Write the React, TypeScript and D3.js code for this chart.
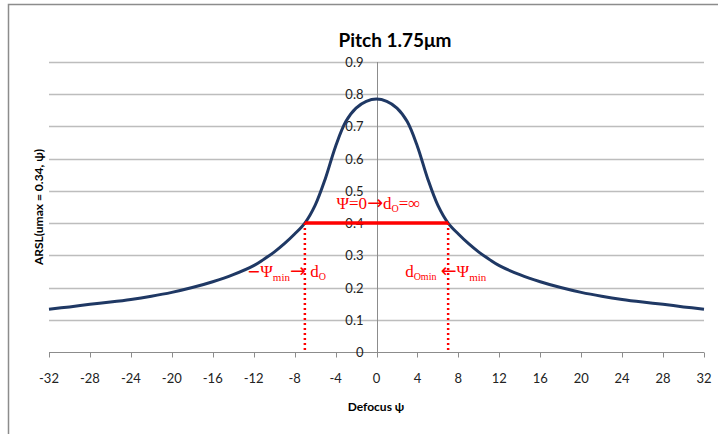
import React, { useEffect, useRef } from 'react';
import * as d3 from 'd3';

// Defocus values (psi) and the ARSL curve
const defocus = [-32, -30, -28, -26, -24, -22, -20, -18, -16, -14, -12, -11, -10, -9, -8, -7, -6, -5, -4, -3, -2, -1, 0,
  1, 2, 3, 4, 5, 6, 7, 8, 9, 10, 11, 12, 14, 16, 18, 20, 22, 24, 26, 28, 30, 32];
const arsl = [0.133, 0.14, 0.148, 0.155, 0.163, 0.173, 0.185, 0.2, 0.218, 0.24, 0.268, 0.288, 0.31, 0.336, 0.366, 0.4, 0.455, 0.538, 0.638, 0.715, 0.757, 0.778, 0.785,
  0.778, 0.757, 0.715, 0.638, 0.538, 0.455, 0.4, 0.366, 0.336, 0.31, 0.288, 0.268, 0.24, 0.218, 0.2, 0.185, 0.173, 0.163, 0.155, 0.148, 0.14, 0.133];

const xTicks = [-32, -28, -24, -20, -16, -12, -8, -4, 0, 4, 8, 12, 16, 20, 24, 28, 32];
const yTicks = [0, 0.1, 0.2, 0.3, 0.4, 0.5, 0.6, 0.7, 0.8, 0.9];

const psiMin = 7;
const threshold = 0.4;

const App: React.FC = () => {
  const svgRef = useRef<SVGSVGElement>(null);

  useEffect(() => {
    if (!svgRef.current) return;
    const width = 718;
    const height = 434;
    const svg = d3.select(svgRef.current);
    svg.selectAll('*').remove();
    svg.attr('width', width).attr('height', height);

    const font = 'Lato, "Open Sans", sans-serif';
    const serif = '"Liberation Serif", "DejaVu Serif", serif';
    const sym = '"DejaVu Sans", sans-serif';

    const x = d3.scaleLinear().domain([-32, 32]).range([49, 704]);
    const y = d3.scaleLinear().domain([0, 0.9]).range([352, 62]);

    // outer chart border (only left and top visible)
    svg.append('path')
      .attr('d', `M8.5,${height}V4.5H${width}`)
      .attr('fill', 'none')
      .attr('stroke', '#8c8c8c')
      .attr('stroke-width', 1.5);

    // gridlines
    svg.append('g')
      .selectAll('line')
      .data(yTicks.filter((d) => d > 0))
      .enter()
      .append('line')
      .attr('x1', x(-32))
      .attr('x2', x(32))
      .attr('y1', (d) => Math.round(y(d)) + 0.5)
      .attr('y2', (d) => Math.round(y(d)) + 0.5)
      .attr('stroke', '#bdbdbd')
      .attr('stroke-width', 1.5);

    // x axis line + ticks
    const axisY = Math.round(y(0)) + 0.5;
    svg.append('line')
      .attr('x1', x(-32)).attr('x2', x(32))
      .attr('y1', axisY).attr('y2', axisY)
      .attr('stroke', '#8c8c8c');
    svg.append('g')
      .selectAll('line')
      .data(xTicks)
      .enter()
      .append('line')
      .attr('x1', (d) => Math.round(x(d)) + 0.5)
      .attr('x2', (d) => Math.round(x(d)) + 0.5)
      .attr('y1', axisY)
      .attr('y2', axisY + 5)
      .attr('stroke', '#8c8c8c');

    svg.append('g')
      .selectAll('text')
      .data(xTicks)
      .enter()
      .append('text')
      .attr('x', (d) => x(d))
      .attr('y', 383)
      .attr('text-anchor', 'middle')
      .attr('font-family', font)
      .attr('font-size', 13)
      .attr('fill', '#222')
      .text((d) => d);

    // y axis at x = 0
    const axisX = Math.round(x(0)) + 0.5;
    svg.append('line')
      .attr('x1', axisX).attr('x2', axisX)
      .attr('y1', y(0.9)).attr('y2', y(0))
      .attr('stroke', '#8c8c8c');

    svg.append('g')
      .selectAll('text')
      .data(yTicks)
      .enter()
      .append('text')
      .attr('x', x(0) - 13)
      .attr('y', (d) => y(d) + 5)
      .attr('text-anchor', 'end')
      .attr('font-family', font)
      .attr('font-size', 13)
      .attr('fill', '#222')
      .text((d) => (d === 0 ? '0' : d.toFixed(1)));

    // curve
    const line = d3.line<number>()
      .x((_, i) => x(defocus[i]))
      .y((d) => y(d))
      .curve(d3.curveCatmullRom.alpha(0.5));
    svg.append('path')
      .attr('d', line(arsl)!)
      .attr('fill', 'none')
      .attr('stroke', '#1f3864')
      .attr('stroke-width', 3);

    // red annotations
    svg.append('line')
      .attr('x1', x(-psiMin)).attr('x2', x(psiMin))
      .attr('y1', y(threshold)).attr('y2', y(threshold))
      .attr('stroke', '#ff0000')
      .attr('stroke-width', 3.5);
    [-psiMin, psiMin].forEach((v) => {
      svg.append('line')
        .attr('x1', x(v)).attr('x2', x(v))
        .attr('y1', y(threshold)).attr('y2', y(0))
        .attr('stroke', '#ff0000')
        .attr('stroke-width', 2.5)
        .attr('stroke-dasharray', '2,3');
    });

    const arrowSize = 19;

    const t1 = svg.append('text')
      .attr('x', x(0) + 2)
      .attr('y', 209)
      .attr('text-anchor', 'middle')
      .attr('font-family', serif)
      .attr('font-size', 17)
      .attr('fill', '#ff0000');
    t1.append('tspan').text('Ψ=0');
    t1.append('tspan').attr('font-family', sym).attr('font-size', arrowSize).text('→');
    t1.append('tspan').text('d');
    t1.append('tspan').attr('font-size', 10).attr('dy', 3).text('O');
    t1.append('tspan').attr('dy', -3).text('=∞');

    const t2 = svg.append('text')
      .attr('x', x(-psiMin) + 21)
      .attr('y', 277)
      .attr('text-anchor', 'end')
      .attr('font-family', serif)
      .attr('font-size', 17)
      .attr('fill', '#ff0000');
    t2.append('tspan').attr('font-family', sym).attr('font-size', 16).text('−');
    t2.append('tspan').text('Ψ');
    t2.append('tspan').attr('font-size', 11).attr('dy', 4).text('min');
    t2.append('tspan').attr('dy', -4).attr('font-family', sym).attr('font-size', arrowSize).text('→');
    t2.append('tspan').text(' d');
    t2.append('tspan').attr('font-size', 10).attr('dy', 3).text('O');

    const t3 = svg.append('text')
      .attr('x', x(psiMin) - 43)
      .attr('y', 277)
      .attr('font-family', serif)
      .attr('font-size', 17)
      .attr('fill', '#ff0000');
    t3.append('tspan').text('d');
    t3.append('tspan').attr('font-size', 10).attr('dy', 3).text('Omin');
    t3.append('tspan').attr('dy', -3).text(' ');
    t3.append('tspan').attr('font-family', sym).attr('font-size', arrowSize).text('←');
    t3.append('tspan').text('Ψ');
    t3.append('tspan').attr('font-size', 11).attr('dy', 4).text('min');

    // title
    svg.append('text')
      .attr('x', 395)
      .attr('y', 47)
      .attr('text-anchor', 'middle')
      .attr('font-family', font)
      .attr('font-weight', 'bold')
      .attr('font-size', 19)
      .attr('fill', '#000')
      .text('Pitch 1.75μm');

    // axis titles
    svg.append('text')
      .attr('x', 376)
      .attr('y', 411)
      .attr('text-anchor', 'middle')
      .attr('font-family', font)
      .attr('font-weight', 'bold')
      .attr('font-size', 12)
      .attr('fill', '#000')
      .text('Defocus ψ');

    svg.append('text')
      .attr('transform', `translate(43,${(y(0) + y(0.9)) / 2}) rotate(-90)`)
      .attr('text-anchor', 'middle')
      .attr('font-family', font)
      .attr('font-weight', 'bold')
      .attr('font-size', 12)
      .attr('fill', '#000')
      .text('ARSL(umax = 0.34, ψ)');
  }, []);

  return <svg ref={svgRef} style={{ position: 'absolute', left: 0, top: 0, background: '#fff' }}></svg>;
};

export default App;
